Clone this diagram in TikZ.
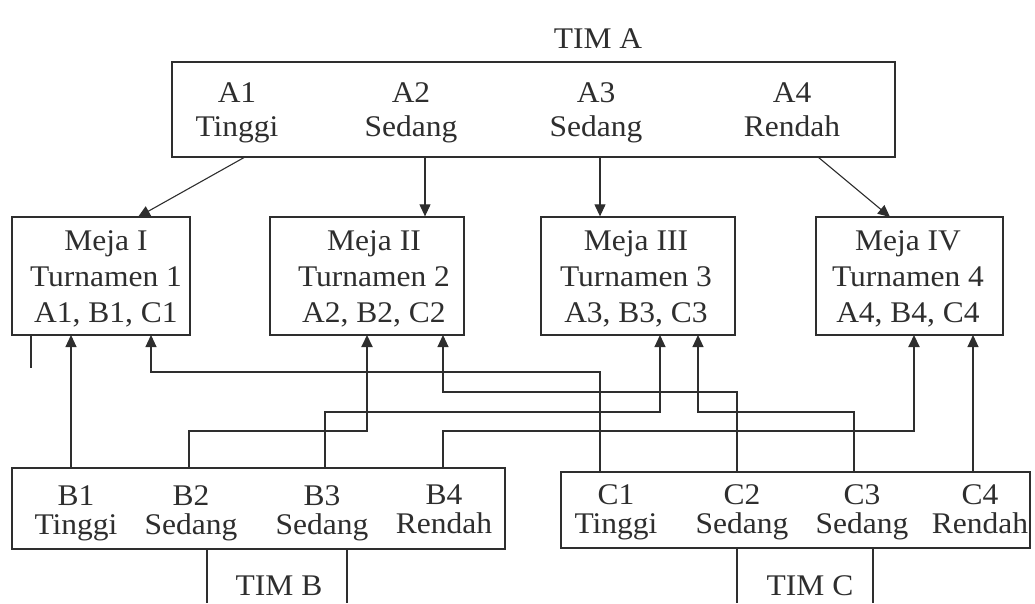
\documentclass[tikz,border=0pt]{standalone}
\usepackage{fontspec}
\setmainfont[FakeStretch=1.05]{Liberation Serif}
\usetikzlibrary{arrows.meta}
\definecolor{ink}{gray}{0.18}
\begin{document}
\begin{tikzpicture}[x=1pt,y=-1pt,
  frame/.style={draw=ink,line width=1.3pt,inner sep=0pt},
  lbl/.style={text=ink,inner sep=0pt,align=center,font=\fontsize{30}{35}\selectfont},
  lbla/.style={text=ink,inner sep=0pt,align=center,anchor=north,font=\fontsize{30}{34}\selectfont},
  lblm/.style={text=ink,inner sep=0pt,align=center,anchor=north,font=\fontsize{30}{36}\selectfont},
  lblb/.style={text=ink,inner sep=0pt,align=center,anchor=north,font=\fontsize{30}{29}\selectfont},
  link/.style={draw=ink,line width=1.1pt},
  boldlink/.style={draw=ink,line width=2pt},
  arr/.style={-{Triangle[length=12pt,width=11pt]}}]
\useasboundingbox (0,0) rectangle (1035,603);
% boxes
\node[frame,minimum width=723pt,minimum height=95pt] (ta) at (533.5,109.5) {};
\node[frame,minimum width=178pt,minimum height=118pt] (m1) at (101,276) {};
\node[frame,minimum width=194pt,minimum height=118pt] (m2) at (367,276) {};
\node[frame,minimum width=194pt,minimum height=118pt] (m3) at (638,276) {};
\node[frame,minimum width=187pt,minimum height=118pt] (m4) at (909.5,276) {};
\node[frame,minimum width=493pt,minimum height=81pt] (bb) at (258.5,508.5) {};
\node[frame,minimum width=469pt,minimum height=76pt] (cb) at (795.5,510) {};
% texts
\node[lbl] (tima) at (598,39) {TIM A};
\node[lbla] (a1) at (237,82) {A1\\Tinggi};
\node[lbla] (a2) at (411,82) {A2\\Sedang};
\node[lbla] (a3) at (596,82) {A3\\Sedang};
\node[lbla] (a4) at (792,82) {A4\\Rendah};
\node[lblm] (t1) at (106,230) {Meja I\\Turnamen 1\\A1, B1, C1};
\node[lblm] (t2) at (374,230) {Meja II\\Turnamen 2\\A2, B2, C2};
\node[lblm] (t3) at (636,230) {Meja III\\Turnamen 3\\A3, B3, C3};
\node[lblm] (t4) at (908,230) {Meja IV\\Turnamen 4\\A4, B4, C4};
\node[lblb] (b1) at (76,485) {B1\\Tinggi};
\node[lblb] (b2) at (191,485) {B2\\Sedang};
\node[lblb] (b3) at (322,485) {B3\\Sedang};
\node[lblb] (b4) at (444,485) {B4\\Rendah};
\node[lblb] (c1) at (616,484) {C1\\Tinggi};
\node[lblb] (c2) at (742,484) {C2\\Sedang};
\node[lblb] (c3) at (862,484) {C3\\Sedang};
\node[lblb] (c4) at (980,484) {C4\\Rendah};
\node[lbl] (timb) at (279,586) {TIM B};
\node[lbl] (timc) at (810,586) {TIM C};
% ports
\coordinate (pa1) at (245,157);
\coordinate (pa2) at (425,157);
\coordinate (pa3) at (600,157);
\coordinate (pa4) at (818,157);
\coordinate (qa1) at (138,217);
\coordinate (qa4) at (890,217);
\coordinate (m1l) at (71,335);
\coordinate (m1r) at (151,335);
\coordinate (m2l) at (367,335);
\coordinate (m2r) at (443,335);
\coordinate (m3l) at (660,335);
\coordinate (m3r) at (698,335);
\coordinate (m4l) at (914,335);
\coordinate (m4r) at (973,335);
\coordinate (pb1) at (71,468);
\coordinate (pb2) at (189,468);
\coordinate (pb3) at (325,468);
\coordinate (pb4) at (443,468);
\coordinate (pc1) at (600,472);
\coordinate (pc2) at (737,472);
\coordinate (pc3) at (854,472);
\coordinate (pc4) at (973,472);
\coordinate (s1) at (31,335);
\coordinate (s2) at (31,368);
\coordinate (bl1) at (207,549);
\coordinate (bl2) at (207,603);
\coordinate (br1) at (347,549);
\coordinate (br2) at (347,603);
\coordinate (cl1) at (737,548);
\coordinate (cl2) at (737,603);
\coordinate (cr1) at (873,548);
\coordinate (cr2) at (873,603);
% connectors from team A
\draw[link,arr] (pa1) -- (qa1);
\draw[link,arr] (pa2) -- (pa2 |- m2.north);
\draw[link,arr] (pa3) -- (pa3 |- m3.north);
\draw[link,arr] (pa4) -- (qa4);
% connectors from team B and C
\draw[link,arr] (pb1) -- (m1l);
\draw[link,arr] (pc1) -- ++(0,-100) -| (m1r);
\draw[boldlink,arr] (pb2) -- ++(0,-37) -| (m2l);
\draw[link,arr] (pc2) -- ++(0,-80) -| (m2r);
\draw[link,arr] (pb3) -- ++(0,-56) -| (m3l);
\draw[link,arr] (pc3) -- ++(0,-60) -| (m3r);
\draw[boldlink,arr] (pb4) -- ++(0,-37) -| (m4l);
\draw[link,arr] (pc4) -- (m4r);
% other lines
\draw[boldlink] (s1) -- (s2);
\draw[link] (bl1) -- (bl2);
\draw[link] (br1) -- (br2);
\draw[link] (cl1) -- (cl2);
\draw[link] (cr1) -- (cr2);
\end{tikzpicture}
\end{document}
